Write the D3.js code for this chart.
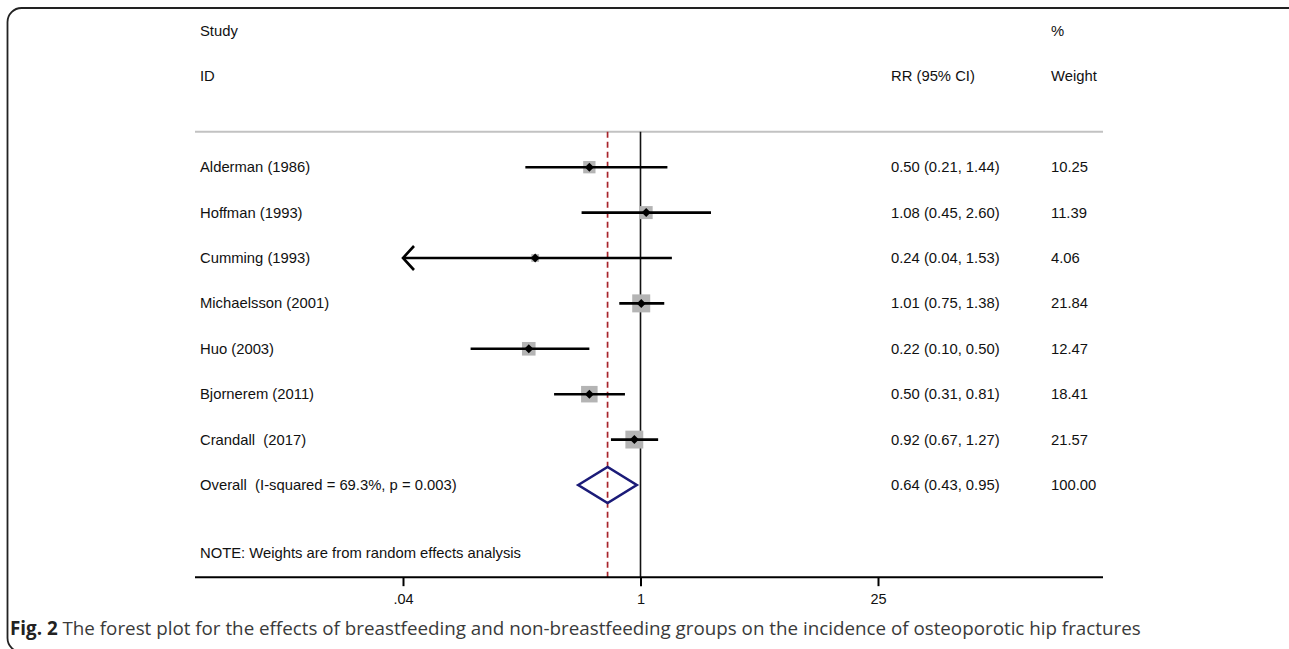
<!DOCTYPE html>
<html>
<head>
<meta charset="utf-8">
<script src="https://cdn.jsdelivr.net/npm/d3@7"></script>
<style>
  body { margin: 0; background: #fff; }
  svg { display: block; }
  .lbl { font-family: "Liberation Sans", Arial, sans-serif; font-size: 14.8px; fill: #111; }
  .tick text { font-family: "Liberation Sans", Arial, sans-serif; font-size: 14.5px; fill: #111; }
  .caption { font-family: "Open Sans", sans-serif; font-size: 18.8px; fill: #3a3a3a; }
</style>
</head>
<body>
<div id="chart"></div>
<script>
// study data
var studies = ["Alderman (1986)", "Hoffman (1993)", "Cumming (1993)", "Michaelsson (2001)",
  "Huo (2003)", "Bjornerem (2011)", "Crandall  (2017)"];
var rr = [0.50, 1.08, 0.24, 1.01, 0.22, 0.50, 0.92];
var lower = [0.21, 0.45, 0.04, 0.75, 0.10, 0.31, 0.67];
var upper = [1.44, 2.60, 1.53, 1.38, 0.50, 0.81, 1.27];
var weights = [10.25, 11.39, 4.06, 21.84, 12.47, 18.41, 21.57];

var overallLabel = "Overall  (I-squared = 69.3%, p = 0.003)";
var overall = { rr: 0.64, lo: 0.43, hi: 0.95, w: 100.00 };

var xTicks = [0.04, 1, 25];
var xTickLabels = [".04", "1", "25"];

var W = 1289, H = 649;

var svg = d3.select("#chart").append("svg")
  .attr("width", W)
  .attr("height", H);

// frame (right and bottom edges run off the picture)
svg.append("rect")
  .attr("x", 7.5).attr("y", 8)
  .attr("width", 1300).attr("height", 644)
  .attr("rx", 14).attr("ry", 14)
  .attr("fill", "none")
  .attr("stroke", "#222")
  .attr("stroke-width", 1.8);

var x = d3.scaleLog().domain([xTicks[0], xTicks[2]]).range([403, 878]);
var row = d3.scaleLinear().domain([0, 10]).range([31, 485]);

var colLabel = 200, colRR = 891, colW = 1051;
var plotLeft = 195, plotRight = 1103;
var topLineY = row(2.22), axisY = row(12.03);

function fmt(v) { return v.toFixed(2); }

// header
var header = [
  { t: "Study", x: colLabel, r: 0 },
  { t: "ID", x: colLabel, r: 1 },
  { t: "RR (95% CI)", x: colRR, r: 1 },
  { t: "%", x: colW, r: 0 },
  { t: "Weight", x: colW, r: 1 }
];
svg.selectAll("text.head").data(header).enter().append("text")
  .attr("class", "lbl head")
  .attr("x", function(d) { return d.x; })
  .attr("y", function(d) { return row(d.r) + 5; })
  .text(function(d) { return d.t; });

svg.append("line")
  .attr("x1", plotLeft).attr("x2", plotRight)
  .attr("y1", topLineY).attr("y2", topLineY)
  .attr("stroke", "#c2c2c2").attr("stroke-width", 2);

// null line and overall dashed line
svg.append("line")
  .attr("x1", x(1)).attr("x2", x(1))
  .attr("y1", topLineY).attr("y2", axisY)
  .attr("stroke", "#111").attr("stroke-width", 1.6);

svg.append("line")
  .attr("x1", x(overall.rr)).attr("x2", x(overall.rr))
  .attr("y1", topLineY).attr("y2", axisY)
  .attr("stroke", "#a8232a").attr("stroke-width", 1.7)
  .attr("stroke-dasharray", "6,4");

var data = studies.map(function(s, i) {
  return { name: s, rr: rr[i], lo: lower[i], hi: upper[i], w: weights[i], r: i + 3 };
});

// weight boxes
svg.selectAll("rect.box").data(data).enter().append("rect")
  .attr("class", "box")
  .attr("x", function(d) { return x(d.rr) - 1.93 * Math.sqrt(d.w); })
  .attr("y", function(d) { return row(d.r) - 1.93 * Math.sqrt(d.w); })
  .attr("width", function(d) { return 3.85 * Math.sqrt(d.w); })
  .attr("height", function(d) { return 3.85 * Math.sqrt(d.w); })
  .attr("fill", "#b4b4b4");

// CI lines
svg.selectAll("line.ci").data(data).enter().append("line")
  .attr("class", "ci")
  .attr("x1", function(d) { return x(Math.max(d.lo, xTicks[0])); })
  .attr("x2", function(d) { return x(d.hi); })
  .attr("y1", function(d) { return row(d.r); })
  .attr("y2", function(d) { return row(d.r); })
  .attr("stroke", "#000").attr("stroke-width", 2.6);

// arrow heads where CI reaches the axis limit
svg.selectAll("path.arrow").data(data.filter(function(d) { return d.lo <= xTicks[0]; }))
  .enter().append("path")
  .attr("class", "arrow")
  .attr("d", function(d) {
    var px = x(xTicks[0]), py = row(d.r);
    return "M" + (px + 11) + "," + (py - 12) + "L" + px + "," + py + "L" + (px + 11) + "," + (py + 12);
  })
  .attr("fill", "none").attr("stroke", "#000").attr("stroke-width", 2.6);

// point estimates
svg.selectAll("path.pt").data(data).enter().append("path")
  .attr("class", "pt")
  .attr("d", function(d) {
    var px = x(d.rr), py = row(d.r), s = 4.5;
    return "M" + px + "," + (py - s) + "L" + (px + s) + "," + py + "L" + px + "," + (py + s) + "L" + (px - s) + "," + py + "Z";
  })
  .attr("fill", "#000");

// overall diamond
svg.append("path")
  .attr("d", "M" + x(overall.lo) + "," + row(10) +
    "L" + x(overall.rr) + "," + (row(10) - 18) +
    "L" + x(overall.hi) + "," + row(10) +
    "L" + x(overall.rr) + "," + (row(10) + 18) + "Z")
  .attr("fill", "none")
  .attr("stroke", "#1b1b78")
  .attr("stroke-width", 2.6);

// text columns
svg.selectAll("text.name").data(data).enter().append("text")
  .attr("class", "lbl name")
  .attr("x", colLabel)
  .attr("y", function(d) { return row(d.r) + 5; })
  .style("white-space", "pre")
  .text(function(d) { return d.name; });

svg.selectAll("text.est").data(data).enter().append("text")
  .attr("class", "lbl est")
  .attr("x", colRR)
  .attr("y", function(d) { return row(d.r) + 5; })
  .text(function(d) { return fmt(d.rr) + " (" + fmt(d.lo) + ", " + fmt(d.hi) + ")"; });

svg.selectAll("text.wt").data(data).enter().append("text")
  .attr("class", "lbl wt")
  .attr("x", colW)
  .attr("y", function(d) { return row(d.r) + 5; })
  .text(function(d) { return fmt(d.w); });

svg.append("text").attr("class", "lbl").attr("x", colLabel).attr("y", row(10) + 5)
  .style("white-space", "pre").text(overallLabel);
svg.append("text").attr("class", "lbl").attr("x", colRR).attr("y", row(10) + 5)
  .text(fmt(overall.rr) + " (" + fmt(overall.lo) + ", " + fmt(overall.hi) + ")");
svg.append("text").attr("class", "lbl").attr("x", colW).attr("y", row(10) + 5)
  .text(fmt(overall.w));

svg.append("text").attr("class", "lbl").attr("x", colLabel).attr("y", row(11.5) + 5)
  .text("NOTE: Weights are from random effects analysis");

// x axis
svg.append("line")
  .attr("x1", plotLeft).attr("x2", plotRight)
  .attr("y1", axisY).attr("y2", axisY)
  .attr("stroke", "#000").attr("stroke-width", 2);

var axis = svg.append("g")
  .attr("transform", "translate(0," + axisY + ")")
  .call(d3.axisBottom(x)
    .tickValues(xTicks)
    .tickFormat(function(d, i) { return xTickLabels[i]; })
    .tickSize(9)
    .tickPadding(8));
axis.select(".domain").remove();
axis.selectAll(".tick line").attr("stroke", "#000").attr("stroke-width", 2);

// caption
var cap = svg.append("text").attr("class", "caption").attr("x", 10).attr("y", 635);
cap.append("tspan").attr("font-weight", "bold").attr("fill", "#222").text("Fig. 2");
cap.append("tspan").text(" The forest plot for the effects of breastfeeding and non-breastfeeding groups on the incidence of osteoporotic hip fractures");
</script>
</body>
</html>
